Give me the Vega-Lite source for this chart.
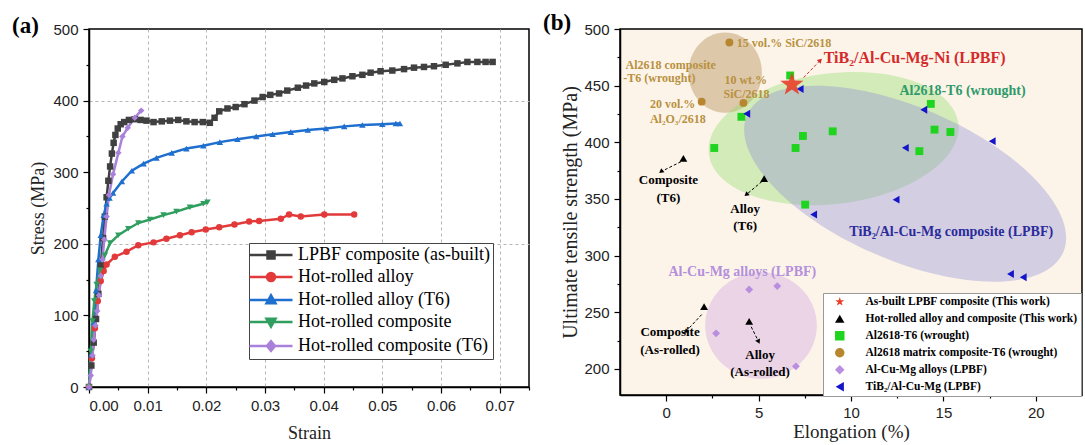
{
  "$schema": "https://vega.github.io/schema/vega-lite/v6.json",
  "background": "white",
  "padding": {"left": 11, "top": 11, "right": 0, "bottom": 0},
  "spacing": 11,
  "resolve": {"scale": {"color": "independent", "shape": "independent"}, "legend": {"color": "independent", "shape": "independent"}},
  "config": {
    "view": {"stroke": "black", "strokeWidth": 1.5},
    "axis": {
      "labelFont": "Liberation Sans", "labelFontSize": 15, "labelColor": "#222",
      "titleFont": "Liberation Serif", "titleFontWeight": "normal", "titleColor": "#222",
      "domainColor": "black", "domainWidth": 1.5, "tickColor": "black", "tickWidth": 1.2, "grid": false
    },
    "legend": {"labelLimit": 400},
    "title": {"font": "Liberation Serif", "fontSize": 23, "fontWeight": "bold", "color": "black", "anchor": "start", "frame": "group", "offset": 0}
  },
  "datasets": {
    "curves": [
      {"series": "LPBF composite (as-built)", "strain": 0, "stress": 0},
      {"series": "LPBF composite (as-built)", "strain": 0.0004, "stress": 30},
      {"series": "LPBF composite (as-built)", "strain": 0.0008, "stress": 62},
      {"series": "LPBF composite (as-built)", "strain": 0.0012, "stress": 95},
      {"series": "LPBF composite (as-built)", "strain": 0.0016, "stress": 130},
      {"series": "LPBF composite (as-built)", "strain": 0.002, "stress": 170},
      {"series": "LPBF composite (as-built)", "strain": 0.0024, "stress": 208},
      {"series": "LPBF composite (as-built)", "strain": 0.0027, "stress": 238},
      {"series": "LPBF composite (as-built)", "strain": 0.003, "stress": 265},
      {"series": "LPBF composite (as-built)", "strain": 0.0033, "stress": 288},
      {"series": "LPBF composite (as-built)", "strain": 0.0036, "stress": 308},
      {"series": "LPBF composite (as-built)", "strain": 0.0039, "stress": 326},
      {"series": "LPBF composite (as-built)", "strain": 0.0042, "stress": 341},
      {"series": "LPBF composite (as-built)", "strain": 0.0045, "stress": 352},
      {"series": "LPBF composite (as-built)", "strain": 0.0049, "stress": 361},
      {"series": "LPBF composite (as-built)", "strain": 0.0054, "stress": 367},
      {"series": "LPBF composite (as-built)", "strain": 0.006, "stress": 370},
      {"series": "LPBF composite (as-built)", "strain": 0.0068, "stress": 373},
      {"series": "LPBF composite (as-built)", "strain": 0.0078, "stress": 374},
      {"series": "LPBF composite (as-built)", "strain": 0.0088, "stress": 373},
      {"series": "LPBF composite (as-built)", "strain": 0.0098, "stress": 372},
      {"series": "LPBF composite (as-built)", "strain": 0.011, "stress": 370},
      {"series": "LPBF composite (as-built)", "strain": 0.0124, "stress": 371},
      {"series": "LPBF composite (as-built)", "strain": 0.0138, "stress": 372},
      {"series": "LPBF composite (as-built)", "strain": 0.0152, "stress": 373},
      {"series": "LPBF composite (as-built)", "strain": 0.0166, "stress": 371},
      {"series": "LPBF composite (as-built)", "strain": 0.018, "stress": 370},
      {"series": "LPBF composite (as-built)", "strain": 0.0194, "stress": 370},
      {"series": "LPBF composite (as-built)", "strain": 0.0206, "stress": 369},
      {"series": "LPBF composite (as-built)", "strain": 0.0214, "stress": 376},
      {"series": "LPBF composite (as-built)", "strain": 0.0222, "stress": 385},
      {"series": "LPBF composite (as-built)", "strain": 0.0236, "stress": 389},
      {"series": "LPBF composite (as-built)", "strain": 0.025, "stress": 391},
      {"series": "LPBF composite (as-built)", "strain": 0.0265, "stress": 395},
      {"series": "LPBF composite (as-built)", "strain": 0.0282, "stress": 400},
      {"series": "LPBF composite (as-built)", "strain": 0.0296, "stress": 405},
      {"series": "LPBF composite (as-built)", "strain": 0.0309, "stress": 408},
      {"series": "LPBF composite (as-built)", "strain": 0.0324, "stress": 410},
      {"series": "LPBF composite (as-built)", "strain": 0.0338, "stress": 414},
      {"series": "LPBF composite (as-built)", "strain": 0.0356, "stress": 418},
      {"series": "LPBF composite (as-built)", "strain": 0.037, "stress": 421},
      {"series": "LPBF composite (as-built)", "strain": 0.0384, "stress": 424},
      {"series": "LPBF composite (as-built)", "strain": 0.0401, "stress": 426},
      {"series": "LPBF composite (as-built)", "strain": 0.0418, "stress": 429},
      {"series": "LPBF composite (as-built)", "strain": 0.0432, "stress": 431},
      {"series": "LPBF composite (as-built)", "strain": 0.0449, "stress": 434},
      {"series": "LPBF composite (as-built)", "strain": 0.0466, "stress": 436},
      {"series": "LPBF composite (as-built)", "strain": 0.048, "stress": 439},
      {"series": "LPBF composite (as-built)", "strain": 0.0497, "stress": 441},
      {"series": "LPBF composite (as-built)", "strain": 0.0517, "stress": 442},
      {"series": "LPBF composite (as-built)", "strain": 0.0537, "stress": 444},
      {"series": "LPBF composite (as-built)", "strain": 0.0554, "stress": 446},
      {"series": "LPBF composite (as-built)", "strain": 0.0571, "stress": 447},
      {"series": "LPBF composite (as-built)", "strain": 0.0588, "stress": 448},
      {"series": "LPBF composite (as-built)", "strain": 0.0608, "stress": 450},
      {"series": "LPBF composite (as-built)", "strain": 0.0628, "stress": 452},
      {"series": "LPBF composite (as-built)", "strain": 0.0645, "stress": 454},
      {"series": "LPBF composite (as-built)", "strain": 0.0662, "stress": 454},
      {"series": "LPBF composite (as-built)", "strain": 0.0676, "stress": 454},
      {"series": "LPBF composite (as-built)", "strain": 0.0688, "stress": 454},
      {"series": "Hot-rolled alloy", "strain": 0, "stress": 0},
      {"series": "Hot-rolled alloy", "strain": 0.0005, "stress": 40},
      {"series": "Hot-rolled alloy", "strain": 0.001, "stress": 82},
      {"series": "Hot-rolled alloy", "strain": 0.0015, "stress": 120},
      {"series": "Hot-rolled alloy", "strain": 0.002, "stress": 148},
      {"series": "Hot-rolled alloy", "strain": 0.0025, "stress": 162},
      {"series": "Hot-rolled alloy", "strain": 0.003, "stress": 171},
      {"series": "Hot-rolled alloy", "strain": 0.0044, "stress": 182},
      {"series": "Hot-rolled alloy", "strain": 0.0064, "stress": 189},
      {"series": "Hot-rolled alloy", "strain": 0.0084, "stress": 198},
      {"series": "Hot-rolled alloy", "strain": 0.011, "stress": 202},
      {"series": "Hot-rolled alloy", "strain": 0.0132, "stress": 207},
      {"series": "Hot-rolled alloy", "strain": 0.0155, "stress": 212},
      {"series": "Hot-rolled alloy", "strain": 0.0175, "stress": 216},
      {"series": "Hot-rolled alloy", "strain": 0.0199, "stress": 220},
      {"series": "Hot-rolled alloy", "strain": 0.0222, "stress": 223},
      {"series": "Hot-rolled alloy", "strain": 0.0248, "stress": 227},
      {"series": "Hot-rolled alloy", "strain": 0.0273, "stress": 231},
      {"series": "Hot-rolled alloy", "strain": 0.029, "stress": 232},
      {"series": "Hot-rolled alloy", "strain": 0.0327, "stress": 235},
      {"series": "Hot-rolled alloy", "strain": 0.0341, "stress": 241},
      {"series": "Hot-rolled alloy", "strain": 0.0361, "stress": 238},
      {"series": "Hot-rolled alloy", "strain": 0.0401, "stress": 241},
      {"series": "Hot-rolled alloy", "strain": 0.0452, "stress": 241},
      {"series": "Hot-rolled alloy (T6)", "strain": 0, "stress": 0},
      {"series": "Hot-rolled alloy (T6)", "strain": 0.0004, "stress": 45},
      {"series": "Hot-rolled alloy (T6)", "strain": 0.0008, "stress": 90},
      {"series": "Hot-rolled alloy (T6)", "strain": 0.0012, "stress": 135},
      {"series": "Hot-rolled alloy (T6)", "strain": 0.0016, "stress": 178},
      {"series": "Hot-rolled alloy (T6)", "strain": 0.002, "stress": 212},
      {"series": "Hot-rolled alloy (T6)", "strain": 0.0025, "stress": 240},
      {"series": "Hot-rolled alloy (T6)", "strain": 0.003, "stress": 256},
      {"series": "Hot-rolled alloy (T6)", "strain": 0.0035, "stress": 264},
      {"series": "Hot-rolled alloy (T6)", "strain": 0.0041, "stress": 271},
      {"series": "Hot-rolled alloy (T6)", "strain": 0.0056, "stress": 287},
      {"series": "Hot-rolled alloy (T6)", "strain": 0.0073, "stress": 302},
      {"series": "Hot-rolled alloy (T6)", "strain": 0.0093, "stress": 312},
      {"series": "Hot-rolled alloy (T6)", "strain": 0.0115, "stress": 320},
      {"series": "Hot-rolled alloy (T6)", "strain": 0.0141, "stress": 327},
      {"series": "Hot-rolled alloy (T6)", "strain": 0.0166, "stress": 333},
      {"series": "Hot-rolled alloy (T6)", "strain": 0.0195, "stress": 337},
      {"series": "Hot-rolled alloy (T6)", "strain": 0.0223, "stress": 342},
      {"series": "Hot-rolled alloy (T6)", "strain": 0.0253, "stress": 346},
      {"series": "Hot-rolled alloy (T6)", "strain": 0.0285, "stress": 350},
      {"series": "Hot-rolled alloy (T6)", "strain": 0.0313, "stress": 353},
      {"series": "Hot-rolled alloy (T6)", "strain": 0.0344, "stress": 356},
      {"series": "Hot-rolled alloy (T6)", "strain": 0.0373, "stress": 359},
      {"series": "Hot-rolled alloy (T6)", "strain": 0.0404, "stress": 361},
      {"series": "Hot-rolled alloy (T6)", "strain": 0.0435, "stress": 364},
      {"series": "Hot-rolled alloy (T6)", "strain": 0.0466, "stress": 366},
      {"series": "Hot-rolled alloy (T6)", "strain": 0.05, "stress": 367},
      {"series": "Hot-rolled alloy (T6)", "strain": 0.0523, "stress": 368},
      {"series": "Hot-rolled alloy (T6)", "strain": 0.053, "stress": 368},
      {"series": "Hot-rolled composite", "strain": 0, "stress": 0},
      {"series": "Hot-rolled composite", "strain": 0.0003, "stress": 50},
      {"series": "Hot-rolled composite", "strain": 0.0006, "stress": 92},
      {"series": "Hot-rolled composite", "strain": 0.0009, "stress": 120},
      {"series": "Hot-rolled composite", "strain": 0.0013, "stress": 143},
      {"series": "Hot-rolled composite", "strain": 0.0019, "stress": 163},
      {"series": "Hot-rolled composite", "strain": 0.0027, "stress": 184},
      {"series": "Hot-rolled composite", "strain": 0.0036, "stress": 201},
      {"series": "Hot-rolled composite", "strain": 0.005, "stress": 212},
      {"series": "Hot-rolled composite", "strain": 0.0067, "stress": 221},
      {"series": "Hot-rolled composite", "strain": 0.0084, "stress": 229},
      {"series": "Hot-rolled composite", "strain": 0.0104, "stress": 234},
      {"series": "Hot-rolled composite", "strain": 0.0127, "stress": 240},
      {"series": "Hot-rolled composite", "strain": 0.0149, "stress": 245},
      {"series": "Hot-rolled composite", "strain": 0.0172, "stress": 251},
      {"series": "Hot-rolled composite", "strain": 0.0195, "stress": 256},
      {"series": "Hot-rolled composite", "strain": 0.0202, "stress": 258},
      {"series": "Hot-rolled composite (T6)", "strain": 0, "stress": 0},
      {"series": "Hot-rolled composite (T6)", "strain": 0.0003, "stress": 16},
      {"series": "Hot-rolled composite (T6)", "strain": 0.0006, "stress": 44},
      {"series": "Hot-rolled composite (T6)", "strain": 0.0008, "stress": 66},
      {"series": "Hot-rolled composite (T6)", "strain": 0.0011, "stress": 86},
      {"series": "Hot-rolled composite (T6)", "strain": 0.0014, "stress": 106},
      {"series": "Hot-rolled composite (T6)", "strain": 0.0017, "stress": 128},
      {"series": "Hot-rolled composite (T6)", "strain": 0.002, "stress": 155},
      {"series": "Hot-rolled composite (T6)", "strain": 0.0023, "stress": 178},
      {"series": "Hot-rolled composite (T6)", "strain": 0.0026, "stress": 206},
      {"series": "Hot-rolled composite (T6)", "strain": 0.003, "stress": 238},
      {"series": "Hot-rolled composite (T6)", "strain": 0.0034, "stress": 268},
      {"series": "Hot-rolled composite (T6)", "strain": 0.0041, "stress": 297},
      {"series": "Hot-rolled composite (T6)", "strain": 0.005, "stress": 327},
      {"series": "Hot-rolled composite (T6)", "strain": 0.0057, "stress": 350},
      {"series": "Hot-rolled composite (T6)", "strain": 0.0066, "stress": 362},
      {"series": "Hot-rolled composite (T6)", "strain": 0.0078, "stress": 376},
      {"series": "Hot-rolled composite (T6)", "strain": 0.0089, "stress": 386}
    ],
    "pts": [
      {"group": "As-built LPBF composite (This work)", "x": 6.8, "y": 451},
      {"group": "Hot-rolled alloy and composite (This work)", "x": 0.93, "y": 385.8},
      {"group": "Hot-rolled alloy and composite (This work)", "x": 5.3, "y": 368},
      {"group": "Hot-rolled alloy and composite (This work)", "x": 2.05, "y": 255},
      {"group": "Hot-rolled alloy and composite (This work)", "x": 4.49, "y": 242},
      {"group": "Al2618-T6 (wrought)", "x": 6.71, "y": 459},
      {"group": "Al2618-T6 (wrought)", "x": 4.07, "y": 422.5},
      {"group": "Al2618-T6 (wrought)", "x": 2.6, "y": 395},
      {"group": "Al2618-T6 (wrought)", "x": 7.4, "y": 405.6},
      {"group": "Al2618-T6 (wrought)", "x": 7.0, "y": 395},
      {"group": "Al2618-T6 (wrought)", "x": 9.01, "y": 409.7},
      {"group": "Al2618-T6 (wrought)", "x": 7.52, "y": 345},
      {"group": "Al2618-T6 (wrought)", "x": 14.32, "y": 433.9},
      {"group": "Al2618-T6 (wrought)", "x": 14.52, "y": 411.2},
      {"group": "Al2618-T6 (wrought)", "x": 15.38, "y": 409.1},
      {"group": "Al2618-T6 (wrought)", "x": 13.7, "y": 392.2},
      {"group": "Al2618 matrix composite-T6 (wrought)", "x": 3.42, "y": 488.1},
      {"group": "Al2618 matrix composite-T6 (wrought)", "x": 1.92, "y": 435.9},
      {"group": "Al2618 matrix composite-T6 (wrought)", "x": 4.18, "y": 434.8},
      {"group": "Al-Cu-Mg alloys (LPBF)", "x": 4.49, "y": 270.1},
      {"group": "Al-Cu-Mg alloys (LPBF)", "x": 6.01, "y": 273.1},
      {"group": "Al-Cu-Mg alloys (LPBF)", "x": 2.7, "y": 231.4},
      {"group": "Al-Cu-Mg alloys (LPBF)", "x": 7.02, "y": 202.3},
      {"group": "TiB₂/Al-Cu-Mg (LPBF)", "x": 7.25, "y": 447},
      {"group": "TiB₂/Al-Cu-Mg (LPBF)", "x": 4.36, "y": 425.2},
      {"group": "TiB₂/Al-Cu-Mg (LPBF)", "x": 13.94, "y": 428.7},
      {"group": "TiB₂/Al-Cu-Mg (LPBF)", "x": 12.94, "y": 395.1},
      {"group": "TiB₂/Al-Cu-Mg (LPBF)", "x": 17.64, "y": 401},
      {"group": "TiB₂/Al-Cu-Mg (LPBF)", "x": 12.44, "y": 349.4},
      {"group": "TiB₂/Al-Cu-Mg (LPBF)", "x": 7.98, "y": 336.3},
      {"group": "TiB₂/Al-Cu-Mg (LPBF)", "x": 18.63, "y": 283.8},
      {"group": "TiB₂/Al-Cu-Mg (LPBF)", "x": 19.32, "y": 280.9}
    ],
    "regions": [
      {"region": "Al2618 composite", "x": 3.19, "y": 461.5},
      {"region": "Al2618-T6", "x": 9.06, "y": 403.3},
      {"region": "TiB2 composite", "x": 12.93, "y": 363.4},
      {"region": "Al-Cu-Mg alloys", "x": 5.13, "y": 238.4}
    ],
    "notes": [
      {"kind": "brown", "text": "15 vol.% SiC/2618", "x": 3.82, "y": 487.8},
      {"kind": "brown", "text": "Al2618 composite", "x": -2.2, "y": 468.6},
      {"kind": "brown", "text": "-T6 (wrought)", "x": -2.32, "y": 456.4},
      {"kind": "brown", "text": "10 wt.%", "x": 3.15, "y": 454.9},
      {"kind": "brown", "text": "SiC/2618", "x": 3.1, "y": 442.7},
      {"kind": "brown", "text": "20 vol.%", "x": -0.88, "y": 433.9},
      {"kind": "brown", "text": "Al₂O₃/2618", "x": -0.88, "y": 420.2},
      {"kind": "red", "text": "TiB₂/Al-Cu-Mg-Ni (LPBF)", "x": 8.52, "y": 474.1},
      {"kind": "green", "text": "Al2618-T6 (wrought)", "x": 12.62, "y": 445.5},
      {"kind": "blue", "text": "TiB₂/Al-Cu-Mg composite (LPBF)", "x": 9.91, "y": 320.8},
      {"kind": "lavender", "text": "Al-Cu-Mg alloys (LPBF)", "x": 0.12, "y": 285.8},
      {"kind": "black", "text": "Composite", "x": 0.12, "y": 366.9},
      {"kind": "black", "text": "(T6)", "x": 0.12, "y": 350.9},
      {"kind": "black", "text": "Alloy", "x": 4.27, "y": 341.3},
      {"kind": "black", "text": "(T6)", "x": 4.27, "y": 326.1},
      {"kind": "black", "text": "Composite", "x": 0.21, "y": 232.9},
      {"kind": "black", "text": "(As-rolled)", "x": 0.21, "y": 216.8},
      {"kind": "black", "text": "Alloy", "x": 5.08, "y": 212.4},
      {"kind": "black", "text": "(As-rolled)", "x": 5.08, "y": 197.3}
    ],
    "arrows": [
      {"arrow": "ni", "x": 7.44, "y": 457.2, "x2": 8.34, "y2": 472.4},
      {"arrow": "t6comp", "x": 0.8, "y": 382.9, "x2": -0.28, "y2": 374.1},
      {"arrow": "t6alloy", "x": 5.18, "y": 365.4, "x2": 4.33, "y2": 353.8},
      {"arrow": "rollcomp", "x": 1.92, "y": 248, "x2": 1.06, "y2": 232.9},
      {"arrow": "rollalloy", "x": 4.6, "y": 237.2, "x2": 5.0, "y2": 224.1}
    ],
    "heads": [
      {"arrow": "ni", "x": 8.34, "y": 472.4},
      {"arrow": "t6comp", "x": -0.28, "y": 374.1},
      {"arrow": "t6alloy", "x": 4.33, "y": 353.8},
      {"arrow": "rollcomp", "x": 1.06, "y": 232.9},
      {"arrow": "rollalloy", "x": 5.0, "y": 224.1}
    ]
  },
  "hconcat": [
    {
      "width": 440,
      "height": 358,
      "title": {"text": "(a)", "dx": -77, "dy": 20},
      "data": {"name": "curves"},
      "resolve": {"scale": {"color": "independent"}, "legend": {"color": "independent"}},
      "encoding": {
        "x": {
          "field": "strain", "type": "quantitative", "title": "Strain",
          "scale": {"domain": [0, 0.075], "nice": false, "zero": false},
          "axis": {
            "values": [0, 0.005, 0.01, 0.015, 0.02, 0.025, 0.03, 0.035, 0.04, 0.045, 0.05, 0.055, 0.06, 0.065, 0.07, 0.075],
            "labelExpr": "abs(datum.value*100 - round(datum.value*100)) < 0.01 ? format(datum.value, '.2f') : ''",
            "tickSize": {"condition": {"test": "abs(datum.value*100 - round(datum.value*100)) < 0.01", "value": 6}, "value": 3},
            "grid": true, "gridColor": "#b5b5b5", "gridDash": [3, 3], "gridWidth": 1,
            "gridOpacity": {"condition": {"test": "abs(datum.value*100 - round(datum.value*100)) < 0.01 && datum.value > 0.001", "value": 1}, "value": 0},
            "labelPadding": 5, "titlePadding": 11, "titleFontSize": 18, "labelOverlap": false
          }
        },
        "y": {
          "field": "stress", "type": "quantitative", "title": "Stress (MPa)",
          "scale": {"domain": [0, 500], "nice": false},
          "axis": {
            "values": [0, 50, 100, 150, 200, 250, 300, 350, 400, 450, 500],
            "labelExpr": "datum.value % 100 === 0 ? datum.label : ''",
            "tickSize": {"condition": {"test": "datum.value % 100 === 0", "value": 6}, "value": 3},
            "grid": true, "gridColor": "#b5b5b5", "gridDash": [3, 3], "gridWidth": 1,
            "gridOpacity": {"condition": {"test": "datum.value === 200 || datum.value === 400", "value": 1}, "value": 0},
            "labelPadding": 5, "titlePadding": 5, "titleFontSize": 18, "labelOverlap": false
          }
        }
      },
      "layer": [
        {
          "mark": {"type": "line", "strokeWidth": 2.5},
          "encoding": {
            "color": {
              "field": "series", "type": "nominal",
              "scale": {
                "domain": ["LPBF composite (as-built)", "Hot-rolled alloy", "Hot-rolled alloy (T6)", "Hot-rolled composite", "Hot-rolled composite (T6)"],
                "range": ["#404040", "#e23a3a", "#1f6fcf", "#2f9e5e", "#a981da"]
              },
              "legend": {
                "orient": "none", "legendX": 160, "legendY": 214, "title": null,
                "labelFont": "Liberation Serif", "labelFontSize": 18, "labelColor": "black", "labelFontWeight": "normal",
                "strokeColor": "#444", "fillColor": "white", "padding": 3,
                "symbolType": "M-4.3,0H4.3", "symbolSize": 100, "symbolStrokeWidth": 2.5,
                "symbolOffset": 10, "labelOffset": 18, "rowPadding": 4,
                "encode": {
                  "symbols": {
                    "update": {
                      "shape": {"signal": "datum.value === 'LPBF composite (as-built)' ? 'M-4.3,0H4.3M-0.7,-0.7H0.7V0.7H-0.7Z' : datum.value === 'Hot-rolled alloy' ? 'M-4.3,0H4.3M-0.8,0C-0.8,-0.442,-0.442,-0.8,0,-0.8C0.442,-0.8,0.8,-0.442,0.8,0C0.8,0.442,0.442,0.8,0,0.8C-0.442,0.8,-0.8,0.442,-0.8,0Z' : datum.value === 'Hot-rolled alloy (T6)' ? 'M-4.3,0H4.3M0,-0.95L0.9,0.65L-0.9,0.65Z' : datum.value === 'Hot-rolled composite' ? 'M-4.3,0H4.3M0,0.95L0.9,-0.65L-0.9,-0.65Z' : 'M-4.3,0H4.3M0,-0.95L0.8,0L0,0.95L-0.8,0Z'"},
                      "fill": {"signal": "datum.value === 'LPBF composite (as-built)' ? '#404040' : datum.value === 'Hot-rolled alloy' ? '#e23a3a' : datum.value === 'Hot-rolled alloy (T6)' ? '#1f6fcf' : datum.value === 'Hot-rolled composite' ? '#2f9e5e' : '#a981da'"},
                      "stroke": {"signal": "datum.value === 'LPBF composite (as-built)' ? '#404040' : datum.value === 'Hot-rolled alloy' ? '#e23a3a' : datum.value === 'Hot-rolled alloy (T6)' ? '#1f6fcf' : datum.value === 'Hot-rolled composite' ? '#2f9e5e' : '#a981da'"},
                      "strokeWidth": {"value": 2.5}
                    }
                  }
                }
              }
            }
          }
        },
        {
          "mark": {"type": "point", "filled": true, "size": 42, "opacity": 1},
          "encoding": {
            "color": {
              "field": "series", "type": "nominal",
              "scale": {
                "domain": ["LPBF composite (as-built)", "Hot-rolled alloy", "Hot-rolled alloy (T6)", "Hot-rolled composite", "Hot-rolled composite (T6)"],
                "range": ["#404040", "#e23a3a", "#1f6fcf", "#2f9e5e", "#a981da"]
              },
              "legend": null
            },
            "shape": {
              "field": "series", "type": "nominal",
              "scale": {
                "domain": ["LPBF composite (as-built)", "Hot-rolled alloy", "Hot-rolled alloy (T6)", "Hot-rolled composite", "Hot-rolled composite (T6)"],
                "range": ["square", "circle", "triangle-up", "triangle-down", "diamond"]
              },
              "legend": null
            }
          }
        }
      ]
    },
    {
      "width": 462,
      "height": 366,
      "title": {"text": "(b)", "dx": -77, "dy": 17},
      "view": {"fill": "#fdf4e9", "stroke": "black", "strokeWidth": 1.5},
      "encoding": {
        "x": {
          "field": "x", "type": "quantitative", "title": "Elongation (%)",
          "scale": {"domain": [-2.5, 22.5], "nice": false, "zero": false},
          "axis": {
            "values": [0, 2.5, 5, 7.5, 10, 12.5, 15, 17.5, 20],
            "labelExpr": "datum.value % 5 === 0 ? datum.label : ''",
            "tickSize": {"condition": {"test": "datum.value % 5 === 0", "value": 6}, "value": 3},
            "labelPadding": 4, "titlePadding": 2, "titleFontSize": 19, "labelOverlap": false
          }
        },
        "y": {
          "field": "y", "type": "quantitative", "title": "Ultimate tensile strength (MPa)",
          "scale": {"domain": [177, 500], "nice": false, "zero": false},
          "axis": {
            "values": [200, 225, 250, 275, 300, 325, 350, 375, 400, 425, 450, 475, 500],
            "labelExpr": "datum.value % 50 === 0 ? datum.label : ''",
            "tickSize": {"condition": {"test": "datum.value % 50 === 0", "value": 6}, "value": 3},
            "labelPadding": 5, "titlePadding": 3, "titleFontSize": 20, "labelOverlap": false
          }
        }
      },
      "layer": [
        {
          "data": {"name": "regions"},
          "transform": [{"filter": "datum.region === 'Al2618 composite'"}],
          "mark": {"type": "point", "shape": "M-1,0C-1,-0.602,-0.552,-1.09,0,-1.09C0.552,-1.09,1,-0.602,1,0C1,0.602,0.552,1.09,0,1.09C-0.552,1.09,-1,0.602,-1,0Z", "size": 5388, "filled": true, "color": "#b08a52", "opacity": 0.42, "strokeWidth": 0}
        },
        {
          "data": {"name": "regions"},
          "transform": [{"filter": "datum.region === 'Al2618-T6'"}],
          "mark": {"type": "point", "shape": "M-1,0C-1,-0.287,-0.552,-0.52,0,-0.52C0.552,-0.52,1,-0.287,1,0C1,0.287,0.552,0.52,0,0.52C-0.552,0.52,-1,0.287,-1,0Z", "size": 63200, "angle": 353, "filled": true, "color": "#8fdc6a", "opacity": 0.38, "strokeWidth": 0}
        },
        {
          "data": {"name": "regions"},
          "transform": [{"filter": "datum.region === 'TiB2 composite'"}],
          "mark": {"type": "point", "shape": "M-1,0C-1,-0.245,-0.552,-0.443,0,-0.443C0.552,-0.443,1,-0.245,1,0C1,0.245,0.552,0.443,0,0.443C-0.552,0.443,-1,0.245,-1,0Z", "size": 118750, "angle": 23.4, "filled": true, "color": "#8a8ad6", "opacity": 0.36, "strokeWidth": 0}
        },
        {
          "data": {"name": "regions"},
          "transform": [{"filter": "datum.region === 'Al-Cu-Mg alloys'"}],
          "mark": {"type": "point", "shape": "M-1,0C-1,-0.527,-0.552,-0.955,0,-0.955C0.552,-0.955,1,-0.527,1,0C1,0.527,0.552,0.955,0,0.955C-0.552,0.955,-1,0.527,-1,0Z", "size": 12455, "filled": true, "color": "#cfa6df", "opacity": 0.42, "strokeWidth": 0}
        },
        {
          "data": {"name": "arrows"},
          "transform": [{"filter": "datum.arrow === 'ni'"}],
          "mark": {"type": "rule", "color": "#d42a2a", "strokeWidth": 1, "strokeDash": [3, 2]},
          "encoding": {"x2": {"field": "x2"}, "y2": {"field": "y2"}}
        },
        {
          "data": {"name": "arrows"},
          "transform": [{"filter": "datum.arrow !== 'ni'"}],
          "mark": {"type": "rule", "color": "black", "strokeWidth": 1, "strokeDash": [3, 2]},
          "encoding": {"x2": {"field": "x2"}, "y2": {"field": "y2"}}
        },
        {
          "data": {"name": "heads"},
          "transform": [{"filter": "datum.arrow === 'ni'"}],
          "mark": {"type": "point", "shape": "triangle-up", "angle": 44, "size": 28, "filled": true, "color": "#d42a2a", "opacity": 1}
        },
        {
          "data": {"name": "heads"},
          "transform": [{"filter": "datum.arrow === 't6comp' || datum.arrow === 't6alloy' || datum.arrow === 'rollcomp'"}],
          "mark": {"type": "point", "shape": "triangle-up", "angle": 232, "size": 28, "filled": true, "color": "black", "opacity": 1}
        },
        {
          "data": {"name": "heads"},
          "transform": [{"filter": "datum.arrow === 'rollalloy'"}],
          "mark": {"type": "point", "shape": "triangle-up", "angle": 154, "size": 28, "filled": true, "color": "black", "opacity": 1}
        },
        {
          "data": {"name": "pts"},
          "transform": [{"filter": "datum.group !== 'As-built LPBF composite (This work)'"}],
          "mark": {"type": "point", "filled": true, "size": 62, "opacity": 1},
          "encoding": {
            "color": {
              "field": "group", "type": "nominal",
              "scale": {
                "domain": ["As-built LPBF composite (This work)", "Hot-rolled alloy and composite (This work)", "Al2618-T6 (wrought)", "Al2618 matrix composite-T6 (wrought)", "Al-Cu-Mg alloys (LPBF)", "TiB₂/Al-Cu-Mg (LPBF)"],
                "range": ["#e8402a", "#000000", "#1ed41e", "#b8862e", "#b98de0", "#1414c8"]
              },
              "legend": {
                "orient": "none", "legendX": 203, "legendY": 264, "title": null,
                "labelFont": "Liberation Serif", "labelFontWeight": "bold", "labelFontSize": 11.5, "labelColor": "black",
                "strokeColor": "#999", "fillColor": "white", "padding": 3,
                "symbolSize": 90, "symbolOffset": 8, "labelOffset": 20, "rowPadding": 4
              }
            },
            "shape": {
              "field": "group", "type": "nominal",
              "scale": {
                "domain": ["As-built LPBF composite (This work)", "Hot-rolled alloy and composite (This work)", "Al2618-T6 (wrought)", "Al2618 matrix composite-T6 (wrought)", "Al-Cu-Mg alloys (LPBF)", "TiB₂/Al-Cu-Mg (LPBF)"],
                "range": ["M0,-1L0.235,-0.324L0.951,-0.309L0.38,0.124L0.588,0.809L0,0.4L-0.588,0.809L-0.38,0.124L-0.951,-0.309L-0.235,-0.324Z", "triangle-up", "square", "circle", "diamond", "triangle-left"]
              },
              "legend": {
                "orient": "none", "legendX": 203, "legendY": 264, "title": null,
                "labelFont": "Liberation Serif", "labelFontWeight": "bold", "labelFontSize": 11.5, "labelColor": "black",
                "strokeColor": "#999", "fillColor": "white", "padding": 3,
                "symbolSize": 90, "symbolOffset": 8, "labelOffset": 20, "rowPadding": 4
              }
            }
          }
        },
        {
          "data": {"name": "pts"},
          "transform": [{"filter": "datum.group === 'As-built LPBF composite (This work)'"}],
          "mark": {"type": "point", "filled": true, "size": 600, "opacity": 0.9},
          "encoding": {
            "color": {
              "field": "group", "type": "nominal",
              "scale": {
                "domain": ["As-built LPBF composite (This work)", "Hot-rolled alloy and composite (This work)", "Al2618-T6 (wrought)", "Al2618 matrix composite-T6 (wrought)", "Al-Cu-Mg alloys (LPBF)", "TiB₂/Al-Cu-Mg (LPBF)"],
                "range": ["#e8402a", "#000000", "#1ed41e", "#b8862e", "#b98de0", "#1414c8"]
              }
            },
            "shape": {
              "field": "group", "type": "nominal",
              "scale": {
                "domain": ["As-built LPBF composite (This work)", "Hot-rolled alloy and composite (This work)", "Al2618-T6 (wrought)", "Al2618 matrix composite-T6 (wrought)", "Al-Cu-Mg alloys (LPBF)", "TiB₂/Al-Cu-Mg (LPBF)"],
                "range": ["M0,-1L0.235,-0.324L0.951,-0.309L0.38,0.124L0.588,0.809L0,0.4L-0.588,0.809L-0.38,0.124L-0.951,-0.309L-0.235,-0.324Z", "triangle-up", "square", "circle", "diamond", "triangle-left"]
              }
            }
          }
        },
        {
          "data": {"name": "notes"},
          "transform": [{"filter": "datum.kind === 'brown'"}],
          "mark": {"type": "text", "align": "left", "baseline": "middle", "font": "Liberation Serif", "fontWeight": "bold", "fontSize": 12, "color": "#b8913f"},
          "encoding": {"text": {"field": "text"}}
        },
        {
          "data": {"name": "notes"},
          "transform": [{"filter": "datum.kind === 'red'"}],
          "mark": {"type": "text", "align": "left", "baseline": "middle", "font": "Liberation Serif", "fontWeight": "bold", "fontSize": 16, "color": "#d42a2a"},
          "encoding": {"text": {"field": "text"}}
        },
        {
          "data": {"name": "notes"},
          "transform": [{"filter": "datum.kind === 'green'"}],
          "mark": {"type": "text", "align": "left", "baseline": "middle", "font": "Liberation Serif", "fontWeight": "bold", "fontSize": 14, "color": "#2f9a6b"},
          "encoding": {"text": {"field": "text"}}
        },
        {
          "data": {"name": "notes"},
          "transform": [{"filter": "datum.kind === 'blue'"}],
          "mark": {"type": "text", "align": "left", "baseline": "middle", "font": "Liberation Serif", "fontWeight": "bold", "fontSize": 14, "color": "#2b2b9b"},
          "encoding": {"text": {"field": "text"}}
        },
        {
          "data": {"name": "notes"},
          "transform": [{"filter": "datum.kind === 'lavender'"}],
          "mark": {"type": "text", "align": "left", "baseline": "middle", "font": "Liberation Serif", "fontWeight": "bold", "fontSize": 14, "color": "#b48fdc"},
          "encoding": {"text": {"field": "text"}}
        },
        {
          "data": {"name": "notes"},
          "transform": [{"filter": "datum.kind === 'black'"}],
          "mark": {"type": "text", "align": "center", "baseline": "middle", "font": "Liberation Serif", "fontWeight": "bold", "fontSize": 13, "color": "black"},
          "encoding": {"text": {"field": "text"}}
        }
      ]
    }
  ]
}
